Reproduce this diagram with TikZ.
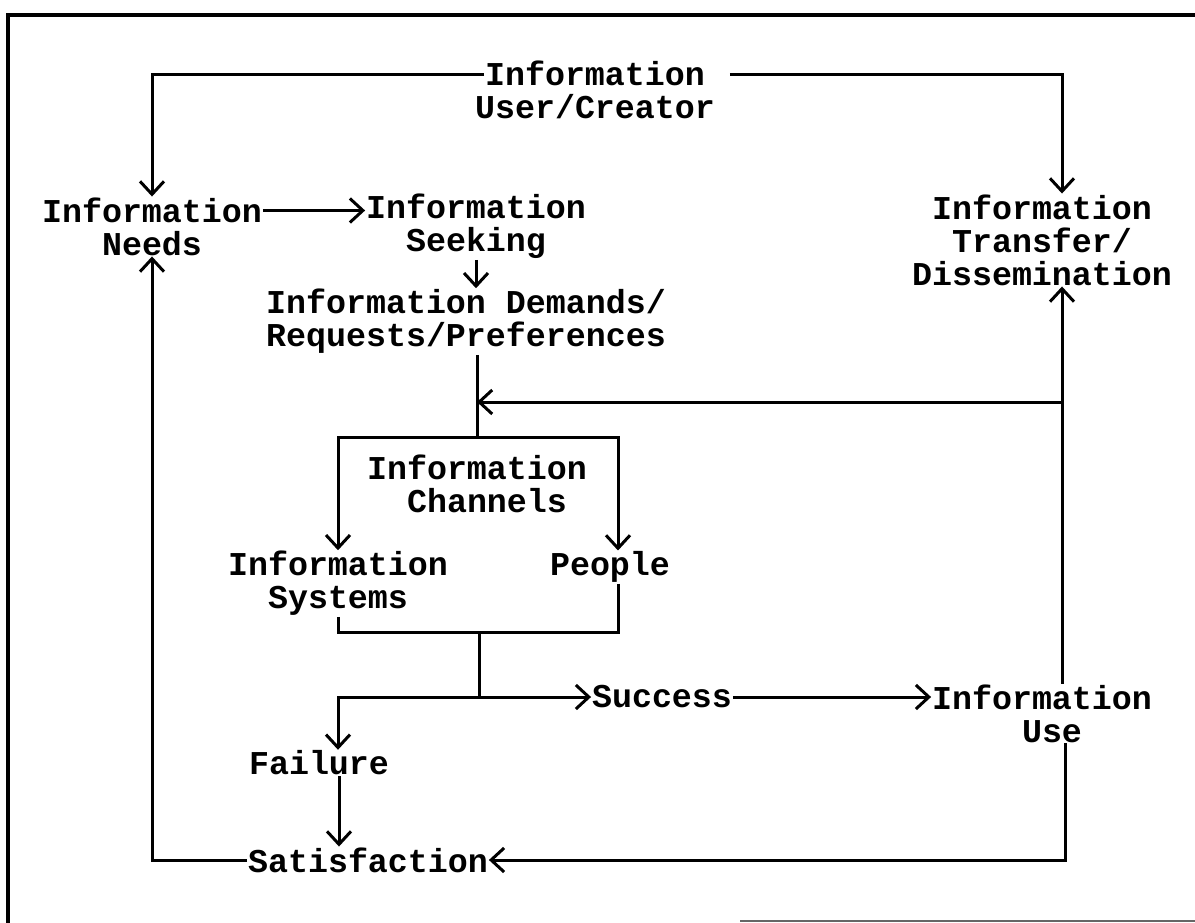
\documentclass[tikz,border=0pt]{standalone}
\usepackage{fontspec}
\setmonofont{Liberation Mono}
\usetikzlibrary{arrows.meta,calc}
\begin{document}
\begin{tikzpicture}[x=1pt,y=-1pt,
  lbl/.style={font=\ttfamily\bfseries\fontsize{33.3}{33}\selectfont, align=center, inner sep=0pt, outer sep=1pt},
  ln/.style={line width=3pt},
  arr/.style={ln, -{Straight Barb[length=13pt,width=24pt]}}]
\useasboundingbox (0,0) rectangle (1195,923);
% frame
\draw[line width=4pt] (8,923) -- (8,15) -- (1195,15);
\draw[line width=2pt, black!60] (740,921) -- (1195,921);
% nodes
\node[lbl] (user) at (595,89.5) {Information\\User/Creator};
\node[lbl] (needs) at (152,226.5) {Information\\Needs};
\node[lbl] (seek) at (476,226.5) {Information\\Seeking};
\node[lbl] (trans) at (1042,240) {Information\\Transfer/~\\Dissemination};
\node[lbl] (dem) at (466,321.5) {Information Demands/\\Requests/Preferences};
\node[lbl] (chan) at (477,484) {Information\\~Channels};
\node[lbl] (sys) at (338,583.5) {Information\\Systems};
\node[lbl] (ppl) at (610,567) {People};
\node[lbl] (succ) at (662,697) {Success};
\node[lbl] (use) at (1042,713.5) {Information\\~Use};
\node[lbl] (fail) at (319,763) {Failure};
\node[lbl] (sat) at (368,860) {Satisfaction};
% junction coordinates
\coordinate (split) at (477,437);
\coordinate (fb) at (1062,402);
\coordinate (merge) at (479,632);
\coordinate (branch) at (479,697);
% connectors
\draw[arr] ([xshift=10pt,yshift=15pt]user.west) -| (needs.north);
\draw[arr] ([xshift=14pt,yshift=15pt]user.east) -| ([xshift=20pt]trans.north);
\draw[arr] ([yshift=16pt]needs.east) -- ([yshift=16pt]seek.west);
\draw[arr] (seek.south) -- (seek.south |- dem.north);
\draw[ln] (dem.south -| split) -- (split);
\draw[arr] (split) -| (sys.north);
\draw[arr] (split) -| ([xshift=8pt]ppl.north);
\draw[arr] ([xshift=20pt]use.north) -- ([xshift=20pt]trans.south);
\draw[arr] (fb) -- (fb -| split);
\draw[ln] (sys.south) |- (merge);
\draw[ln] ([xshift=8pt]ppl.south) |- (merge);
\draw[ln] (merge) -- (branch);
\draw[arr] (branch) -- (succ.west);
\draw[arr] (branch) -| ([xshift=19pt]fail.north);
\draw[arr] (succ.east) -- (succ.east -| use.west);
\draw[arr] ([xshift=20pt]fail.south) -- ([xshift=20pt]fail.south |- sat.north);
\draw[arr] ([xshift=23pt]use.south) |- (sat.east);
\draw[arr] (sat.west) -| (needs.south);
\end{tikzpicture}
\end{document}
